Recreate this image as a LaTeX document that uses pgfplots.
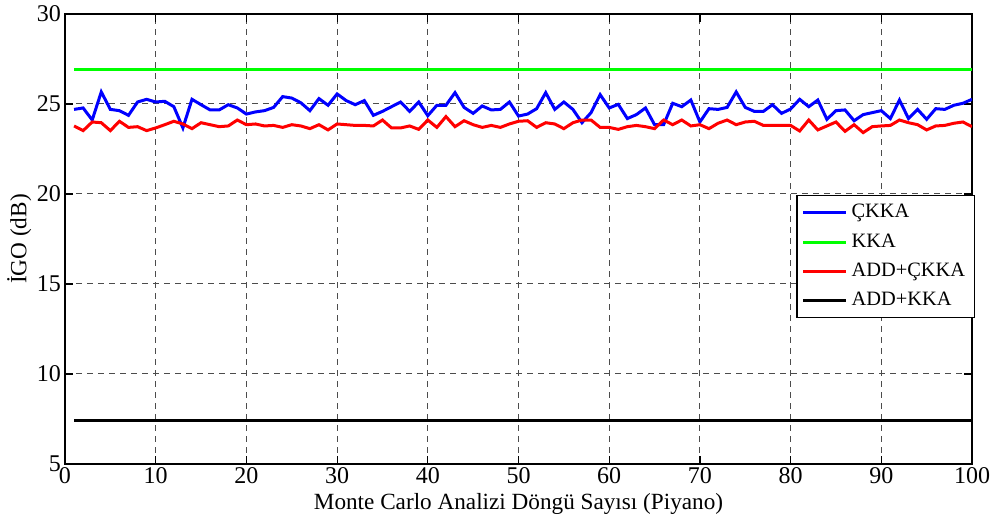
\documentclass[border=0pt]{standalone}
\usepackage{pgfplots}
\pgfplotsset{compat=1.18}
\usepackage{pgfplotstable}
\usepackage{fontspec}
\setmainfont{Liberation Serif}

\pgfplotstableread{
x ckka addckka
1 24.70 23.78
2 24.78 23.52
3 24.11 24.00
4 25.67 23.96
5 24.70 23.52
6 24.63 24.04
7 24.37 23.70
8 25.11 23.74
9 25.26 23.52
10 25.11 23.67
11 25.15 23.85
12 24.85 24.04
13 23.67 23.89
14 25.26 23.63
15 24.96 23.96
16 24.67 23.85
17 24.67 23.74
18 24.96 23.78
19 24.78 24.11
20 24.44 23.85
21 24.56 23.89
22 24.63 23.78
23 24.81 23.81
24 25.41 23.70
25 25.33 23.85
26 25.07 23.78
27 24.63 23.63
28 25.30 23.85
29 24.93 23.56
30 25.56 23.89
31 25.19 23.85
32 24.96 23.81
33 25.19 23.81
34 24.37 23.78
35 24.59 24.11
36 24.85 23.67
37 25.11 23.67
38 24.59 23.78
39 25.11 23.59
40 24.35 24.11
41 24.93 23.70
42 24.93 24.30
43 25.63 23.74
44 24.81 24.07
45 24.48 23.85
46 24.89 23.70
47 24.67 23.81
48 24.70 23.70
49 25.11 23.89
50 24.33 24.04
51 24.44 24.07
52 24.74 23.70
53 25.63 23.96
54 24.70 23.89
55 25.11 23.63
56 24.70 23.96
57 23.96 24.11
58 24.52 24.11
59 25.52 23.70
60 24.78 23.70
61 24.98 23.59
62 24.19 23.74
63 24.41 23.81
64 24.78 23.74
65 23.85 23.63
66 23.85 24.11
67 25.04 23.85
68 24.85 24.11
69 25.22 23.78
70 24.00 23.85
71 24.74 23.63
72 24.70 23.93
73 24.81 24.11
74 25.67 23.85
75 24.81 24.00
76 24.59 24.04
77 24.59 23.81
78 24.96 23.81
79 24.48 23.81
80 24.72 23.81
81 25.26 23.50
82 24.85 24.11
83 25.22 23.56
84 24.15 23.78
85 24.63 24.00
86 24.67 23.48
87 24.07 23.85
88 24.41 23.41
89 24.52 23.74
90 24.63 23.78
91 24.19 23.81
92 25.22 24.11
93 24.19 23.96
94 24.70 23.85
95 24.15 23.56
96 24.74 23.78
97 24.70 23.81
98 24.93 23.93
99 25.04 24.00
100 25.26 23.74
}\datatable

\begin{document}
\begin{tikzpicture}
\useasboundingbox (-32.5pt,-29.5pt) rectangle (464.5pt,232pt);
\begin{axis}[
  at={(0,0)}, anchor=south west,
  scale only axis,
  width=453.5pt, height=225pt,
  xmin=0, xmax=100, ymin=5, ymax=30,
  xtick={0,10,...,100}, ytick={5,10,...,30},
  tick align=inside,
  major tick length=4pt,
  grid=major,
  grid style={black!70, dash pattern=on 3pt off 2.5pt, line width=0.5pt},
  axis line style={black, line width=1pt},
  tick style={black, line width=0.6pt},
  every tick label/.append style={font=\fontsize{12}{13}\selectfont},
  /pgf/number format/assume math mode=true,
  xticklabel style={yshift=2pt},
  yticklabel style={xshift=1.5pt},
  xlabel={Monte Carlo Analizi Döngü Sayısı (Piyano)},
  ylabel={İGO (dB)},
  label style={font=\fontsize{11.6}{13}\selectfont},
  xlabel style={yshift=2pt},
  ylabel style={yshift=-4pt},
  legend cell align=left,
  legend style={at={(axis description cs:1.003,0.598)}, anchor=north east,
    font=\fontsize{10.2}{12}\selectfont, draw=black, line width=0.6pt,
    row sep=2.4pt, inner sep=2.5pt},
  legend image code/.code={\draw[#1, line width=1.5pt] (0cm,0cm) -- (0.75cm,0cm);},
]
\addplot[blue, line width=1.5pt] table[x=x, y=ckka] {\datatable};
\addlegendentry{ÇKKA}
\addplot[green, line width=1.5pt] coordinates {(1,26.93) (100,26.93)};
\addlegendentry{KKA}
\addplot[red, line width=1.5pt] table[x=x, y=addckka] {\datatable};
\addlegendentry{ADD+ÇKKA}
\addplot[black, line width=1.5pt] coordinates {(1,7.4) (100,7.4)};
\addlegendentry{ADD+KKA}
\end{axis}
\end{tikzpicture}
\end{document}
